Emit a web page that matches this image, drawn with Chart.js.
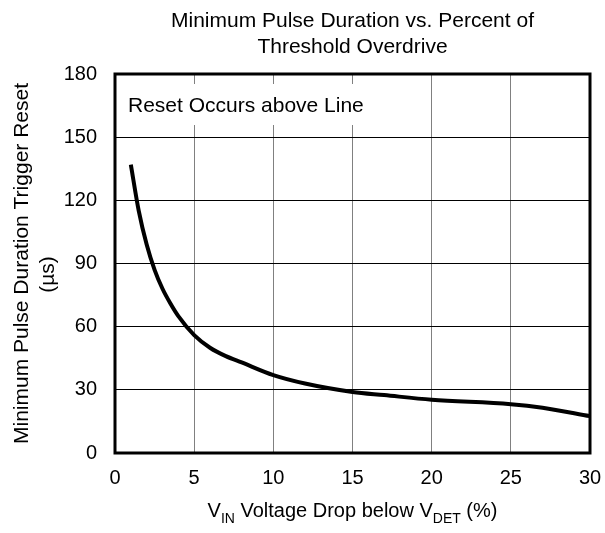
<!DOCTYPE html>
<html lang="en">
<head>
    <meta charset="UTF-8" />
    <title>Minimum Pulse Duration vs. Percent of Threshold Overdrive</title>
    <script src="https://cdn.jsdelivr.net/npm/chart.js"></script>
    <style>
        html, body { margin: 0; padding: 0; background: #fff; }
        #chartContainer { width: 605px; height: 533px; position: relative; }
    </style>
</head>
<body>

<div id="chartContainer">
    <canvas id="myChart"></canvas>
</div>

<script>
    // values (percent drop -> microseconds)
    const dropPercent = [1, 1.5, 2, 2.5, 3, 3.5, 4, 5, 6, 7, 8, 10, 12, 15, 17, 20, 25, 27, 30];
    const pulseUs     = [137, 115, 99, 87, 78, 71, 65, 56, 50, 46, 43, 37, 33, 29, 27.5, 25.3, 23.2, 21.5, 17.5];

    const titleLines = ['Minimum Pulse Duration vs. Percent of', 'Threshold Overdrive'];
    const yTitleLines = ['Minimum Pulse Duration Trigger Reset', '(\u00b5s)'];
    // x title, pieces marked as subscript or not
    const xTitleParts = [['V', false], ['IN', true], [' Voltage Drop below V', false], ['DET', true], [' (%)', false]];
    const noteText = 'Reset Occurs above Line';

    const FONT = '"Liberation Sans", Arial, sans-serif';

    // draws the frame, titles and the note box
    const decorations = {
        id: 'decorations',
        beforeDatasetsDraw(chart) {
            const ctx = chart.ctx;
            const a = chart.chartArea;
            ctx.save();
            // white box behind the note hides the grid
            ctx.fillStyle = '#fff';
            ctx.fillRect(a.left + 2, 84, 260, 41);
            ctx.fillStyle = '#000';
            ctx.font = '21px ' + FONT;
            ctx.textAlign = 'left';
            ctx.textBaseline = 'alphabetic';
            ctx.fillText(noteText, 128, 112);
            ctx.restore();
        },
        afterDraw(chart) {
            const ctx = chart.ctx;
            const a = chart.chartArea;
            const cx = (a.left + a.right) / 2;
            ctx.save();
            ctx.strokeStyle = '#000';
            ctx.lineWidth = 3;
            ctx.strokeRect(a.left, a.top, a.right - a.left, a.bottom - a.top);

            ctx.fillStyle = '#000';
            ctx.textAlign = 'center';
            ctx.textBaseline = 'alphabetic';
            ctx.font = '21px ' + FONT;
            ctx.fillText(titleLines[0], cx, 27);
            ctx.fillText(titleLines[1], cx, 53);

            // y title, rotated
            const cy = (a.top + a.bottom) / 2;
            ctx.save();
            ctx.translate(22, cy);
            ctx.rotate(-Math.PI / 2);
            ctx.textBaseline = 'middle';
            ctx.fillText(yTitleLines[0], 0, 0);
            ctx.restore();
            ctx.save();
            ctx.translate(48, cy + 11);
            ctx.rotate(-Math.PI / 2);
            ctx.textBaseline = 'middle';
            ctx.fillText(yTitleLines[1], 0, 0);
            ctx.restore();

            // x title with subscripts
            const big = '20px ' + FONT, small = '14px ' + FONT;
            let total = 0;
            xTitleParts.forEach(p => { ctx.font = p[1] ? small : big; total += ctx.measureText(p[0]).width; });
            let x = cx - total / 2;
            ctx.textAlign = 'left';
            xTitleParts.forEach(p => {
                ctx.font = p[1] ? small : big;
                ctx.fillText(p[0], x, p[1] ? 523 : 517);
                x += ctx.measureText(p[0]).width;
            });
            ctx.restore();
        }
    };

    document.addEventListener('DOMContentLoaded', function () {
        const ctx = document.getElementById('myChart').getContext('2d');

        new Chart(ctx, {
            type: 'line',
            data: {
                datasets: [{
                    data: dropPercent.map((v, i) => ({ x: v, y: pulseUs[i] })),
                    borderColor: '#000',
                    borderWidth: 4,
                    pointRadius: 0,
                    fill: false,
                    cubicInterpolationMode: 'monotone'
                }]
            },
            options: {
                responsive: true,
                maintainAspectRatio: false,
                animation: false,
                layout: { padding: { top: 74, right: 15, left: 0, bottom: 0 } },
                plugins: {
                    legend: { display: false },
                    title: { display: false },
                    tooltip: { enabled: false }
                },
                scales: {
                    x: {
                        type: 'linear',
                        min: 0,
                        max: 30,
                        afterFit(s) { s.height = 80; s.paddingLeft = 0; s.paddingRight = 0; },
                        ticks: { stepSize: 5, color: '#000', padding: 13, font: { family: FONT, size: 20 } },
                        grid: { color: '#808080', lineWidth: 1, drawTicks: false },
                        border: { display: false }
                    },
                    y: {
                        min: 0,
                        max: 180,
                        afterFit(s) { s.width = 115; s.paddingTop = 0; s.paddingBottom = 0; },
                        ticks: { stepSize: 30, color: '#000', padding: 18, font: { family: FONT, size: 20 } },
                        grid: { color: '#000', lineWidth: 1, drawTicks: false },
                        border: { display: false }
                    }
                }
            },
            plugins: [decorations]
        });
    });
</script>

</body>
</html>
